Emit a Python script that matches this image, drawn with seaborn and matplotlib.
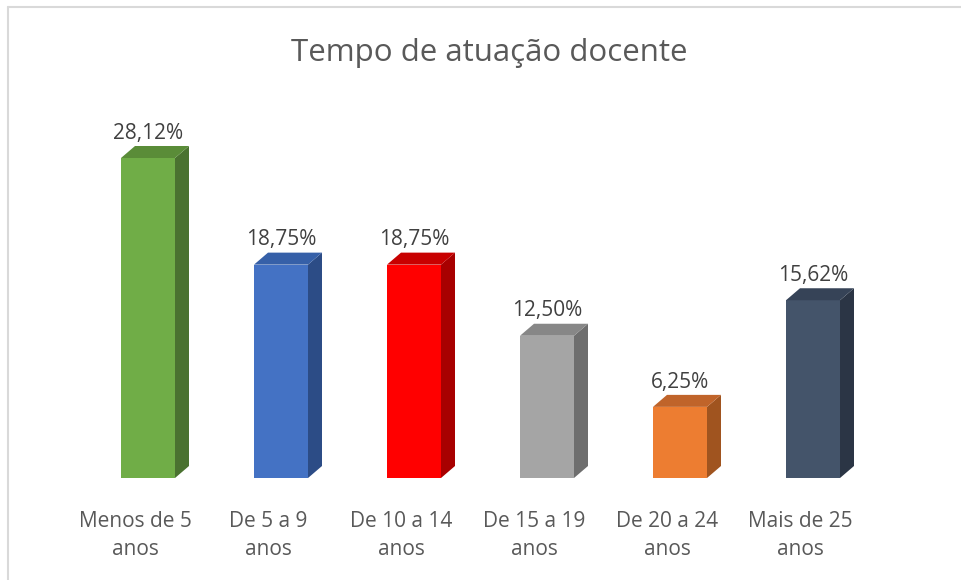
import numpy as np
import pandas as pd
import matplotlib
matplotlib.use("Agg")
import matplotlib.pyplot as plt
from matplotlib.patches import Polygon
from matplotlib.lines import Line2D
import matplotlib.transforms as mtransforms
import seaborn as sns

# dados
categorias = ["Menos de 5\nanos", "De 5 a 9\nanos", "De 10 a 14\nanos",
              "De 15 a 19\nanos", "De 20 a 24\nanos", "Mais de 25\nanos"]
valores = [28.12, 18.75, 18.75, 12.50, 6.25, 15.62]
rotulos = ["28,12%", "18,75%", "18,75%", "12,50%", "6,25%", "15,62%"]

cor_frente = ["#70AD47", "#4472C4", "#FF0000", "#A5A5A5", "#ED7D31", "#44546A"]
cor_lado = ["#4A7230", "#2C4C86", "#A80000", "#6E6E6E", "#A0541F", "#2B3545"]
cor_topo = ["#5A8C38", "#3660A8", "#C80000", "#878787", "#C0642A", "#364357"]

sns.set_style("white")
plt.rcParams["font.family"] = ["Open Sans", "DejaVu Sans"]

fig = plt.figure(figsize=(9.62, 5.8), dpi=100)
W, H = 962, 580
# eixo: categorias a cada 133 px, base em y=478
ax = fig.add_axes([81.5 / W, 102 / H, 798 / W, 341.4 / H])

df = pd.DataFrame({"cat": categorias, "val": valores})
largura = 0.406
sns.barplot(data=df, x="cat", y="val", hue="cat", palette=cor_frente,
            width=largura, legend=False, ax=ax, saturation=1, edgecolor="none")
ax.set_xlim(-0.5, 5.5)
ax.set_ylim(0, 30)

# profundidade 3D (em unidades de dados)
dx = 14 / 133
dy = 12 / 11.38

for i, v in enumerate(valores):
    x1 = i + largura / 2
    x0 = i - largura / 2
    lado = Polygon([(x1, 0), (x1, v), (x1 + dx, v + dy), (x1 + dx, dy)],
                   closed=True, facecolor=cor_lado[i], edgecolor="none", zorder=3)
    topo = Polygon([(x0, v), (x1, v), (x1 + dx, v + dy), (x0 + dx, v + dy)],
                   closed=True, facecolor=cor_topo[i], edgecolor="none", zorder=3)
    ax.add_patch(lado)
    ax.add_patch(topo)
    ax.text(i, v + dy + 0.2, rotulos[i], ha="center", va="bottom",
            fontsize=15, color="#404040")

ax.set_xlabel("")
ax.set_ylabel("")
ax.set_yticks([])
ax.tick_params(axis="x", length=0, pad=24, labelsize=15, labelcolor="#595959")
desloc = mtransforms.ScaledTranslation(-13 / 100, 0, fig.dpi_scale_trans)
for lbl in ax.get_xticklabels():
    lbl.set_linespacing(1.42)
    lbl.set_transform(lbl.get_transform() + desloc)
sns.despine(ax=ax, left=True, bottom=True)

fig.text(489 / W, 1 - 53 / H, "Tempo de atuação docente", ha="center", va="center",
         fontsize=22.5, color="#595959")

# borda do gráfico
fig.add_artist(Line2D([8 / W, 1], [1 - 7 / H, 1 - 7 / H], color="#D9D9D9", lw=1.5))
fig.add_artist(Line2D([8 / W, 8 / W], [0, 1 - 7 / H], color="#D9D9D9", lw=1.5))

fig.savefig("out.png", dpi=100, facecolor="white")
